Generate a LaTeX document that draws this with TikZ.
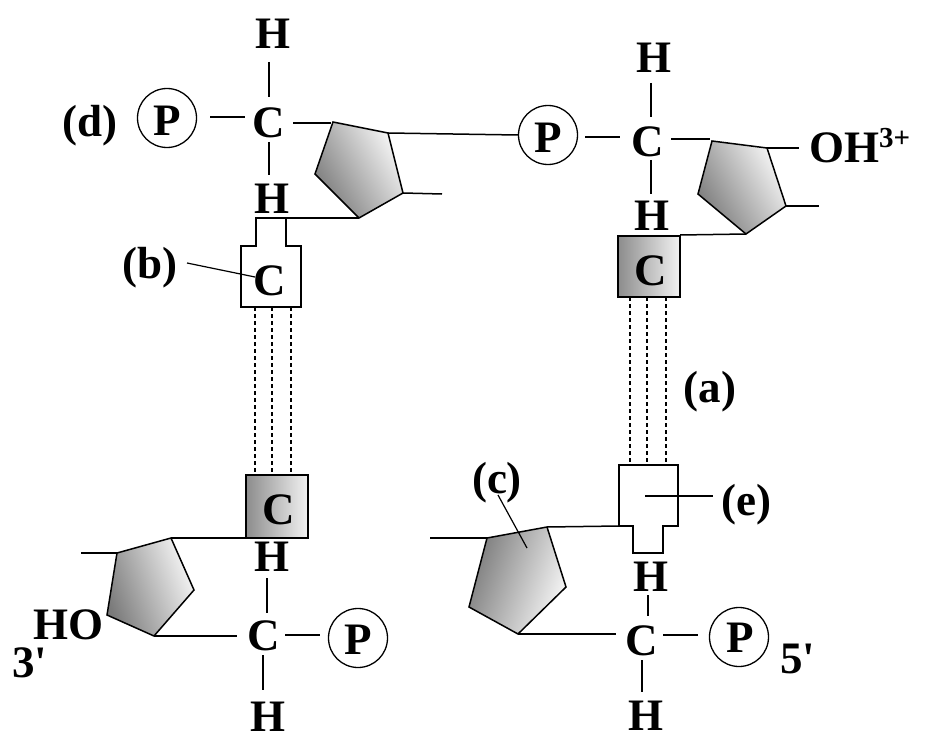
\documentclass[tikz,border=0pt]{standalone}
\usepackage{fontspec}
\setmainfont{Liberation Serif}
\begin{document}
\begin{tikzpicture}[x=1pt,y=-1pt,
  bond/.style={line width=1.5pt},
  hbond/.style={line width=1.5pt,dash pattern=on 4pt off 3pt},
  lbl/.style={anchor=base,inner sep=0pt,font=\fontsize{45}{45}\selectfont\bfseries},
  phos/.style={circle,draw,line width=1.3pt,minimum size=59pt,inner sep=0pt},
  sugar/.style={draw,line width=1.5pt,top color=black!3,bottom color=black!52,shading angle=-60},
  basebox/.style={draw,line width=1.5pt,left color=black!45,right color=black!5}]
\useasboundingbox (0,0) rectangle (929,749);

% ---------------- top left nucleotide ----------------
\node[lbl] (h1t) at (273,49) {H};
\node[lbl] (c1) at (269,138) {C};
\node[lbl] (h1b) at (272,213) {H};
\node[phos] (p1) at (167,118) {};
\node[lbl] (p1t) at (167,136) {P};
\node[lbl] (d) at (90,137) {(d)};
\draw[bond] (269,62) -- (269,97);
\draw[bond] (269,142) -- (269,175);
\draw[bond] (210,117) -- (245,117);
\draw[bond] (293,123) -- (331,123);
\coordinate (s1a) at (333,122);
\coordinate (s1b) at (388,133);
\coordinate (s1c) at (403,193);
\coordinate (s1d) at (359,218);
\coordinate (s1e) at (315,174);
\shade[sugar] (s1a) -- (s1b) -- (s1c) -- (s1d) -- (s1e) -- cycle;
\draw[bond] (s1c) -- (442,194);
% base (b)
\draw[bond,fill=white] (s1d) -- (256,218) -- (256,246) -- (241,246) -- (241,307) -- (301,307) -- (301,246) -- (286,246) -- (286,218);
\node[lbl] (cb) at (270,295) {C};
\node[lbl] (b) at (150,278) {(b)};
\coordinate (bl1) at (187,263);
\coordinate (bl2) at (255,277);
\draw[bond,line width=1.2pt] (bl1) -- (bl2);

% ---------------- top right nucleotide ----------------
\node[phos] (p2) at (548,135) {};
\node[lbl] (p2t) at (548,153) {P};
\draw[bond] (s1b) -- (p2.west);
\node[lbl] (h2t) at (654,73) {H};
\node[lbl] (c2) at (648,157) {C};
\node[lbl] (h2b) at (652,230) {H};
\draw[bond] (651,83) -- (651,117);
\draw[bond] (651,160) -- (651,194);
\draw[bond] (585,137) -- (620,137);
\draw[bond] (671,139) -- (710,139);
\coordinate (s2a) at (712,141);
\coordinate (s2b) at (767,148);
\coordinate (s2c) at (786,206);
\coordinate (s2d) at (746,234);
\coordinate (s2e) at (698,194);
\shade[sugar] (s2a) -- (s2b) -- (s2c) -- (s2d) -- (s2e) -- cycle;
\draw[bond] (s2b) -- (799,148);
\draw[bond] (s2c) -- (819,206);
\node[lbl,anchor=base west] (oh) at (809,163) {OH\raisebox{15pt}{\fontsize{29}{29}\selectfont 3+}};
\shade[basebox] (618,236) rectangle (680,297);
\draw[bond] (680,235) -- (s2d);
\node[lbl] (cg1) at (651,285) {C};

% ---------------- hydrogen bonds ----------------
\draw[hbond] (255,307) -- (255,475);
\draw[hbond] (272,307) -- (272,475);
\draw[hbond] (291,307) -- (291,475);
\draw[hbond] (630,297) -- (630,465);
\draw[hbond] (647,297) -- (647,465);
\draw[hbond] (666,297) -- (666,465);
\node[lbl] (a) at (710,402) {(a)};

% ---------------- bottom left nucleotide ----------------
\shade[basebox] (246,475) rectangle (308,538);
\node[lbl] (cg2) at (279,524) {C};
\coordinate (s3a) at (171,538);
\coordinate (s3b) at (194,590);
\coordinate (s3c) at (154,636);
\coordinate (s3d) at (107,615);
\coordinate (s3e) at (117,553);
\shade[sugar,shading angle=-70] (s3a) -- (s3b) -- (s3c) -- (s3d) -- (s3e) -- cycle;
\draw[bond] (s3a) -- (246,538);
\draw[bond] (81,553) -- (s3e);
\node[lbl,anchor=base east] (ho) at (104,639) {HO};
\node[lbl,anchor=base west] (three) at (12,677) {3\textquotesingle};
\draw[bond] (s3c) -- (237,636);
\node[lbl] (h3t) at (272,571) {H};
\node[lbl] (c3) at (264,650) {C};
\node[lbl] (h3b) at (268,731) {H};
\draw[bond] (267,578) -- (267,613);
\draw[bond] (285,635) -- (320,635);
\node[phos] (p3) at (358,638) {};
\node[lbl] (p3t) at (358,654) {P};
\draw[bond] (263,655) -- (263,690);

% ---------------- bottom right nucleotide ----------------
\draw[bond,fill=white] (619,465) -- (678,465) -- (678,526) -- (663,526) -- (663,553) -- (633,553) -- (633,526) -- (619,526) -- cycle;
\coordinate (s4a) at (547,527);
\coordinate (s4b) at (566,587);
\coordinate (s4c) at (518,634);
\coordinate (s4d) at (469,607);
\coordinate (s4e) at (487,538);
\shade[sugar,shading angle=-110] (s4a) -- (s4b) -- (s4c) -- (s4d) -- (s4e) -- cycle;
\draw[bond] (s4a) -- (619,526);
\draw[bond] (430,538) -- (s4e);
\node[lbl] (e) at (746,515) {(e)};
\draw[bond,line width=1.2pt] (645,496) -- (713,496);
\node[lbl] (c) at (497,493) {(c)};
\draw[bond,line width=1.2pt] (498,495) -- (527,548);
\node[lbl] (h4t) at (651,591) {H};
\node[lbl] (c4) at (642,655) {C};
\node[lbl] (h4b) at (646,730) {H};
\draw[bond] (648,595) -- (648,616);
\draw[bond] (s4c) -- (616,634);
\draw[bond] (663,635) -- (698,635);
\node[phos] (p4) at (739,637) {};
\node[lbl] (p4t) at (740,652) {P};
\node[lbl,anchor=base west] (five) at (780,673) {5\textquotesingle};
\draw[bond] (642,660) -- (642,692);
\end{tikzpicture}
\end{document}
